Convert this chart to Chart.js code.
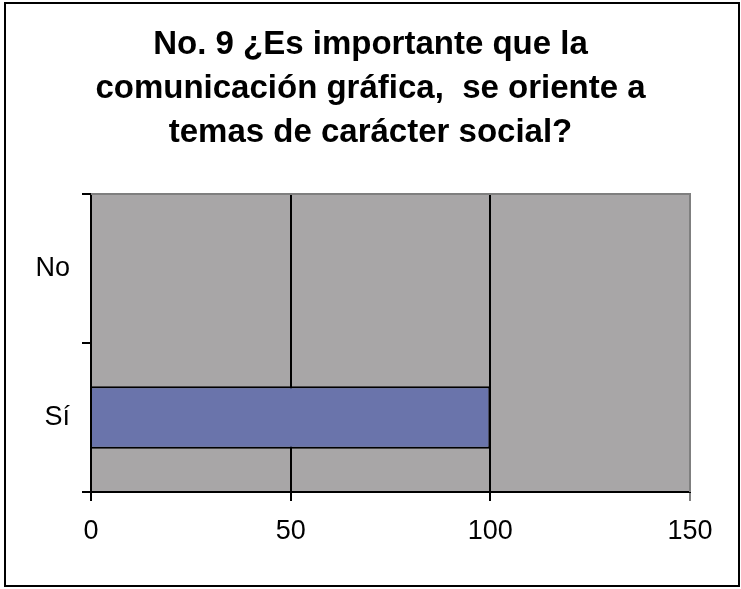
<!DOCTYPE html>
<html>
<head>
<meta charset="utf-8">
<script src="https://cdn.jsdelivr.net/npm/chart.js@4/dist/chart.umd.min.js"></script>
<style>
  html, body { margin: 0; padding: 0; background: #fff; }
  #wrap { width: 741px; height: 589px; }
</style>
</head>
<body>
<div id="wrap"><canvas id="chart" width="741" height="589"></canvas></div>
<script>
// Survey question 9 data
const titleLines = ['No. 9 ¿Es importante que la', 'comunicación gráfica,  se oriente a', 'temas de carácter social?'];
const answers = ['No', 'Sí'];
const counts = [0, 100];
const xTicks = [0, 50, 100, 150];

const FONT = "'Liberation Sans', Arial, sans-serif";

// Gray plot background, outer frame and light top/right plot edges
const framePlugin = {
    id: 'frame',
    beforeDraw(chart) {
        const { ctx, chartArea: a } = chart;
        ctx.save();
        ctx.fillStyle = '#fff';
        ctx.fillRect(0, 0, chart.width, chart.height);
        ctx.fillStyle = '#a8a6a7';
        ctx.fillRect(a.left, a.top, a.right - a.left, a.bottom - a.top);
        ctx.restore();
    },
    afterDraw(chart) {
        const { ctx, chartArea: a } = chart;
        ctx.save();
        ctx.strokeStyle = '#7f7f7f';
        ctx.lineWidth = 2;
        ctx.beginPath();
        ctx.moveTo(a.left, a.top);
        ctx.lineTo(a.right, a.top);
        ctx.lineTo(a.right, a.bottom);
        ctx.stroke();
        ctx.strokeStyle = '#000';
        ctx.lineWidth = 2;
        ctx.strokeRect(5, 3, 734, 583);
        ctx.restore();
    }
};

new Chart(document.getElementById('chart'), {
    type: 'bar',
    data: {
        labels: answers,
        datasets: [{
            data: counts,
            backgroundColor: '#6a74ab',
            borderColor: '#000',
            borderWidth: 2,
            borderSkipped: 'start',
            categoryPercentage: 1,
            barPercentage: 0.42
        }]
    },
    options: {
        indexAxis: 'y',
        responsive: false,
        animation: false,
        layout: { padding: 0 },
        plugins: {
            legend: { display: false },
            tooltip: { enabled: false },
            title: {
                display: true,
                text: titleLines,
                color: '#000',
                font: { family: FONT, size: 33, weight: 'bold', lineHeight: 1.333 },
                padding: { top: 23, bottom: 39 }
            }
        },
        scales: {
            x: {
                min: 0,
                max: 150,
                afterBuildTicks: scale => { scale.ticks = xTicks.map(v => ({ value: v })); },
                afterFit: scale => { scale.height = 97; },
                grid: {
                    color: ctx => ctx.tick && ctx.tick.value === 150 ? '#7f7f7f' : '#000',
                    lineWidth: 2,
                    tickLength: 9
                },
                border: { color: '#000', width: 2 },
                ticks: {
                    color: '#000',
                    padding: 14,
                    font: { family: FONT, size: 27 }
                }
            },
            y: {
                afterFit: scale => { scale.width = 91; },
                grid: {
                    drawOnChartArea: false,
                    color: '#000',
                    lineWidth: 2,
                    tickLength: 9
                },
                border: { color: '#000', width: 2 },
                ticks: {
                    color: '#000',
                    padding: 12,
                    font: { family: FONT, size: 27 }
                }
            },
            // empty right-hand gutter so the plot ends short of the frame
            gutter: {
                axis: 'y',
                type: 'category',
                position: 'right',
                afterFit: scale => { scale.width = 51; },
                grid: { display: false },
                border: { display: false },
                ticks: { display: false }
            }
        }
    },
    plugins: [framePlugin]
});
</script>
</body>
</html>
